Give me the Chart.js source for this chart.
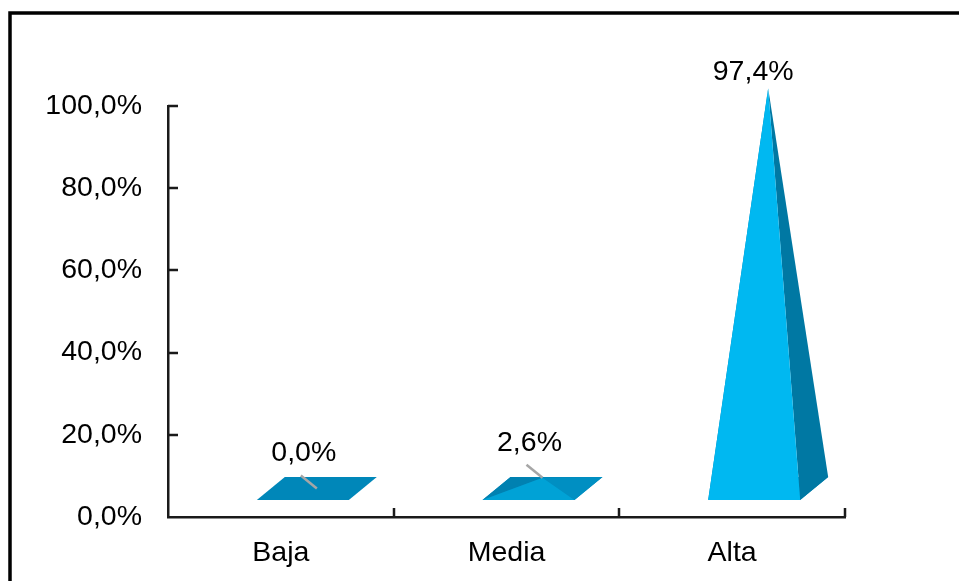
<!DOCTYPE html>
<html>
<head>
<meta charset="utf-8">
<script src="https://cdn.jsdelivr.net/npm/chart.js@4.4.0/dist/chart.umd.min.js"></script>
<style>
  html, body { margin: 0; padding: 0; background: #fff; }
  #wrap { width: 959px; height: 581px; position: relative; }
</style>
</head>
<body>
<div id="wrap"><canvas id="nivelChart" width="959" height="581"></canvas></div>
<script>
const categories = ['Baja', 'Media', 'Alta'];
const percentValues = [0.0, 2.6, 97.4];
const yTickValues = [0, 20, 40, 60, 80, 100];

const FONT = '"Liberation Sans", Arial, sans-serif';
const FONT_SIZE = 28.5;
const fmtPct = v => v.toFixed(1).replace('.', ',') + '%';

// pyramid drawing (3D look, floor sits behind the axis)
const pyramidPlugin = {
    id: 'pyramids',
    beforeDraw(chart) {
        const ctx = chart.ctx;
        ctx.save();
        ctx.strokeStyle = '#000';
        ctx.lineWidth = 3.5;
        ctx.strokeRect(10, 13, 1200, 1200);
        ctx.restore();
    },
    afterDatasetsDraw(chart) {
        const ctx = chart.ctx;
        const yScale = chart.scales.y;
        const meta = chart.getDatasetMeta(0);
        const y0 = yScale.getPixelForValue(0);
        const hw = 46, ddx = 14, ddy = 11.5;
        meta.data.forEach((bar, i) => {
            const fx = bar.x + 36;
            const fy = y0 - 28.5;
            const apex = {x: fx, y: bar.y - 28.5};
            const fl = {x: fx - hw - ddx, y: fy + ddy};
            const fr = {x: fx + hw - ddx, y: fy + ddy};
            const br = {x: fx + hw + ddx, y: fy - ddy};
            const bl = {x: fx - hw + ddx, y: fy - ddy};
            const poly = (pts, color) => {
                ctx.beginPath();
                ctx.moveTo(pts[0].x, pts[0].y);
                pts.slice(1).forEach(p => ctx.lineTo(p.x, p.y));
                ctx.closePath();
                ctx.fillStyle = color;
                ctx.fill();
            };
            ctx.save();
            poly([fl, fr, br, bl], '#0087B9');
            if (percentValues[i] > 0) {
                poly([fl, bl, apex], '#0081B1');
                poly([fr, br, apex], percentValues[i] > 10 ? '#0078A3' : '#008FC2');
                poly([fl, fr, apex], percentValues[i] > 10 ? '#00B8F1' : '#00A2D6');
            }
            // labels
            ctx.fillStyle = '#000';
            ctx.font = FONT_SIZE + 'px ' + FONT;
            ctx.textAlign = 'center';
            ctx.textBaseline = 'middle';
            if (percentValues[i] < 10) {
                ctx.strokeStyle = '#A6A6A6';
                ctx.lineWidth = 2.5;
                ctx.beginPath();
                ctx.moveTo(apex.x - 16, apex.y - 13);
                ctx.lineTo(apex.x, apex.y);
                ctx.stroke();
                ctx.fillText(fmtPct(percentValues[i]), apex.x - 13, apex.y - 35);
            } else {
                ctx.fillText(fmtPct(percentValues[i]), apex.x - 15, apex.y - 16);
            }
            ctx.restore();
        });
    },
    afterDraw(chart) {
        // inward tick marks
        const ctx = chart.ctx;
        const {x: xScale, y: yScale} = chart.scales;
        const area = chart.chartArea;
        ctx.save();
        ctx.strokeStyle = '#1a1a1a';
        ctx.lineWidth = 2.5;
        ctx.beginPath();
        yTickValues.forEach(v => {
            if (v === 0) return;
            const py = Math.round(yScale.getPixelForValue(v));
            ctx.moveTo(area.left, py);
            ctx.lineTo(area.left + 10, py);
        });
        const step = (area.right - area.left) / categories.length;
        categories.forEach((c, i) => {
            const px = Math.round(area.left + step * (i + 1));
            ctx.moveTo(px, area.bottom);
            ctx.lineTo(px, area.bottom - 9);
        });
        ctx.stroke();
        ctx.restore();
    }
};

new Chart(document.getElementById('nivelChart').getContext('2d'), {
    type: 'bar',
    data: {
        labels: categories,
        datasets: [{
            data: percentValues,
            backgroundColor: 'rgba(0,0,0,0)',
            borderWidth: 0
        }]
    },
    options: {
        responsive: false,
        animation: false,
        layout: { padding: { top: 106, right: 114, left: 0, bottom: 0 } },
        plugins: { legend: { display: false }, tooltip: { enabled: false } },
        scales: {
            x: {
                grid: { display: true, drawOnChartArea: false, drawTicks: false },
                border: { display: true, color: '#1a1a1a', width: 2.5 },
                ticks: { color: '#000', font: { family: FONT, size: FONT_SIZE }, padding: 19 },
                afterFit(scale) { scale.height = 64; }
            },
            y: {
                min: 0,
                max: 100,
                grid: { display: true, drawOnChartArea: false, drawTicks: false },
                border: { display: true, color: '#1a1a1a', width: 2.5 },
                ticks: {
                    stepSize: 20,
                    color: '#000',
                    font: { family: FONT, size: FONT_SIZE },
                    padding: 26,
                    callback: v => fmtPct(v)
                },
                afterFit(scale) { scale.width = 168; }
            }
        }
    },
    plugins: [pyramidPlugin]
});
</script>
</body>
</html>
